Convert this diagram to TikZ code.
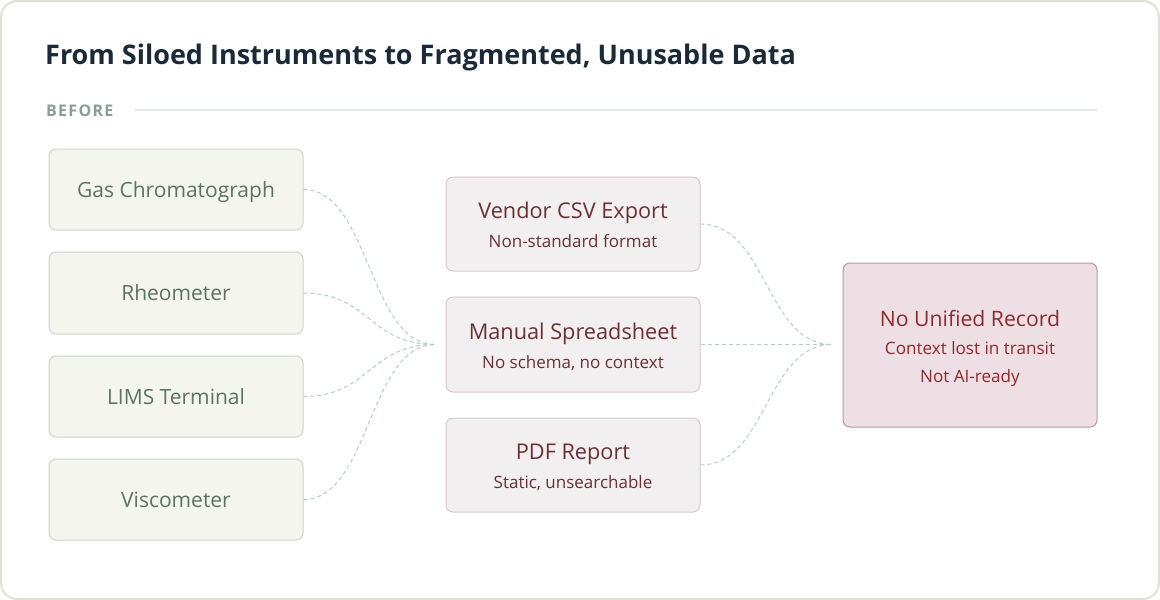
\documentclass[tikz,border=0pt]{standalone}
\usepackage{fontspec}
\setmainfont{Open Sans}
\usetikzlibrary{calc}
\definecolor{cardline}{HTML}{DFE1D4}
\definecolor{titlecol}{HTML}{1B2A38}
\definecolor{beforecol}{HTML}{8C9E94}
\definecolor{rulecol}{HTML}{E3E8E5}
\definecolor{instfill}{HTML}{F4F5EE}
\definecolor{instline}{HTML}{C9D6CB}
\definecolor{insttext}{HTML}{5B7264}
\definecolor{midfill}{HTML}{F2EFF0}
\definecolor{midline}{HTML}{D9C9CD}
\definecolor{midtext}{HTML}{6B3034}
\definecolor{recfill}{HTML}{EDDFE3}
\definecolor{recline}{HTML}{B9989F}
\definecolor{rectext}{HTML}{8B2A30}
\definecolor{conncol}{HTML}{B5CCC4}
\tikzset{
  instbox/.style={draw=instline, fill=instfill, rounded corners=7pt, line width=1pt,
    minimum width=254pt, minimum height=81pt, inner sep=0pt, text=insttext,
    font=\fontsize{21}{25}\selectfont, text height=15pt, text depth=0pt},
  midbox/.style={draw=midline, fill=midfill, rounded corners=7pt, line width=1pt,
    minimum width=254pt, minimum height=94pt, inner sep=0pt},
  recbox/.style={draw=recline, fill=recfill, rounded corners=7pt, line width=1pt,
    minimum width=254pt, minimum height=164pt, inner sep=0pt},
  midtitle/.style={anchor=base, inner sep=0pt, text=midtext, font=\fontsize{21.7}{25}\selectfont},
  midsub/.style={anchor=base, inner sep=0pt, text=midtext, font=\fontsize{17}{20}\selectfont},
  rectitle/.style={anchor=base, inner sep=0pt, text=rectext, font=\fontsize{21.2}{25}\selectfont},
  recsub/.style={anchor=base, inner sep=0pt, text=rectext, font=\fontsize{17.1}{20}\selectfont},
  conn/.style={draw=conncol, line width=1pt, dash pattern=on 4pt off 3pt},
}
\begin{document}
\begin{tikzpicture}[x=1pt,y=-1pt]
\useasboundingbox (0,0) rectangle (1160,600);
\fill[white] (0,0) rectangle (1160,600);
\draw[draw=cardline, line width=2pt, fill=white, rounded corners=16pt] (1,1) rectangle (1159,599);

\node[anchor=base west, inner sep=0pt, text=titlecol, font=\fontsize{27}{31}\selectfont\bfseries] (title) at (45,64) {From Siloed Instruments to Fragmented, Unusable Data};
\node[anchor=base west, inner sep=0pt, text=beforecol, font=\fontsize{16}{20}\selectfont\bfseries\addfontfeatures{LetterSpace=8}] (before) at (46,116) {BEFORE};
\coordinate (ruleA) at (135,110);
\coordinate (ruleB) at (1097,110);
\draw[rulecol, line width=1.5pt] (ruleA) -- (ruleB);

\node[instbox] (gas)  at (176,189.5) {Gas Chromatograph};
\node[instbox, minimum height=82pt] (rheo) at (176,293) {Rheometer};
\node[instbox] (lims) at (176,396.5) {LIMS Terminal};
\node[instbox] (visc) at (176,499.5) {Viscometer};

\node[midbox] (vendor) at (573,224) {};
\node[midbox, minimum height=95pt] (manual) at (573,344.5) {};
\node[midbox] (pdf) at (573,465) {};

\node[midtitle] (vendorT) at ($(vendor)+(0,-5.5)$) {Vendor CSV Export};
\node[midsub] (vendorS) at ($(vendor)+(0,23.5)$) {Non-standard format};
\node[midtitle] (manualT) at ($(manual)+(0,-5.5)$) {Manual Spreadsheet};
\node[midsub] (manualS) at ($(manual)+(0,23.5)$) {No schema, no context};
\node[midtitle] (pdfT) at ($(pdf)+(0,-5.5)$) {PDF Report};
\node[midsub] (pdfS) at ($(pdf)+(0,23.5)$) {Static, unsearchable};

\node[recbox] (record) at (970,345) {};
\node[rectitle] (recordT) at ($(record)+(0,-19)$) {No Unified Record};
\node[recsub] (recordS1) at ($(record)+(0,9)$) {Context lost in transit};
\node[recsub] (recordS2) at ($(record)+(0,37)$) {Not AI-ready};

\coordinate (joinL) at (435,344.5);
\coordinate (joinR) at (832,344.5);
\foreach \n in {gas,rheo,lims,visc}{
  \draw[conn] (\n.east) .. controls +(66,0) and +(-66,0) .. (joinL);
}
\foreach \n in {vendor,manual,pdf}{
  \draw[conn] (\n.east) .. controls +(66,0) and +(-66,0) .. (joinR);
}
\end{tikzpicture}
\end{document}
